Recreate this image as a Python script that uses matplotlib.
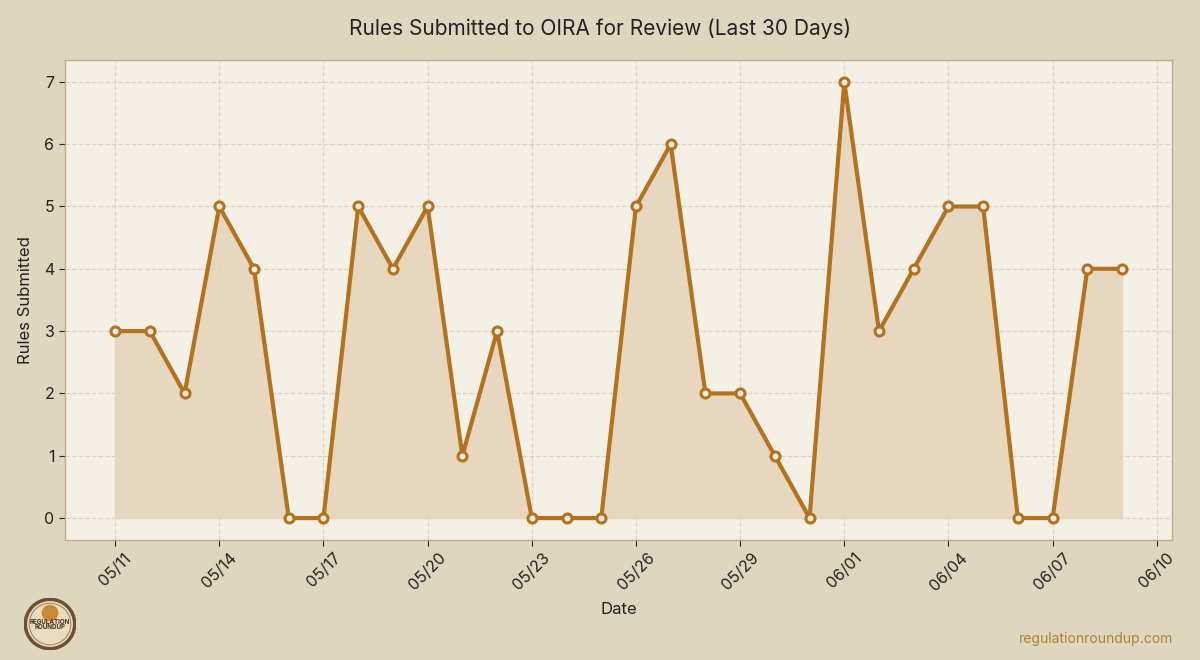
import numpy as np
import pandas as pd
import matplotlib
matplotlib.use("Agg")
import matplotlib.pyplot as plt
import matplotlib.dates as mdates
from matplotlib.patches import Circle

plt.rcParams['font.family'] = ['Inter', 'DejaVu Sans']

# data: rules submitted per day, 05/11 .. 06/09
dates = pd.date_range("2025-05-11", "2025-06-09", freq="D")
counts = [3, 3, 2, 5, 4, 0, 0, 5, 4, 5, 1, 3, 0, 0, 0,
          5, 6, 2, 2, 1, 0, 7, 3, 4, 5, 5, 0, 0, 4, 4]
tick_dates = pd.date_range("2025-05-11", "2025-06-10", freq="3D")

line_col = '#b3721f'
fig = plt.figure(figsize=(12, 6.6), dpi=100, facecolor='#ded6bf')
ax = fig.add_axes([0.054, 0.182, 0.923, 0.727])
ax.set_facecolor('#f5f0e6')

ax.fill_between(dates, counts, 0, color='#e6d5bb', alpha=0.9, zorder=1)
ax.plot(dates, counts, color=line_col, lw=3, marker='o', markersize=6.5,
        markerfacecolor='#f5ebe0', markeredgecolor=line_col, markeredgewidth=2.2, zorder=3)

ax.set_xticks(tick_dates)
ax.xaxis.set_major_formatter(mdates.DateFormatter('%m/%d'))
plt.setp(ax.get_xticklabels(), rotation=45, ha='center')
ax.tick_params(axis='both', labelsize=11.5, colors='#222222', length=4)

ax.grid(True, linestyle='--', color='#e3d2c3', lw=0.9, zorder=0)
ax.set_axisbelow(True)
for s in ax.spines.values():
    s.set_color('#c4ab88')
    s.set_linewidth(1)

ax.set_xlabel('Date', fontsize=12, color='#222222', labelpad=6)
ax.set_ylabel('Rules Submitted', fontsize=12, color='#222222', labelpad=8)
fig.text(0.5, 0.957, 'Rules Submitted to OIRA for Review (Last 30 Days)',
         ha='center', va='center', fontsize=15, color='#222222')
fig.text(0.978, 0.032, 'regulationroundup.com', ha='right', va='center',
         fontsize=10, color='#b58138')

# rough stand-in for the logo badge
lax = fig.add_axes([24 / 1200, 1 - 650 / 660, 52 / 1200, 52 / 660])
lax.set_xlim(-1, 1)
lax.set_ylim(-1, 1)
lax.set_aspect('equal')
lax.axis('off')
lax.add_patch(Circle((0, 0), 0.95, facecolor='#e9dcc0', edgecolor='#6e5034', lw=2.5))
lax.add_patch(Circle((0, 0), 0.8, facecolor='none', edgecolor='#a88a60', lw=0.8))
lax.add_patch(Circle((0, 0.42), 0.32, facecolor='#c98a35', edgecolor='none'))
lax.text(0, -0.02, 'REGULATION\nROUNDUP', ha='center', va='center',
         fontsize=4.5, fontweight='bold', color='#4a3320', linespacing=0.95)

fig.savefig('out.png', dpi=100, facecolor=fig.get_facecolor())
